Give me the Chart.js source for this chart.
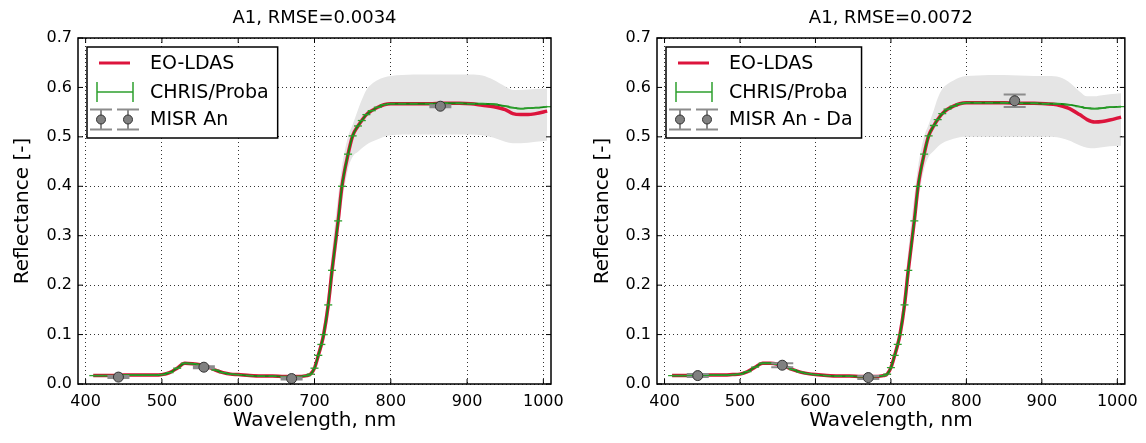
<!DOCTYPE html>
<html>
<head>
<meta charset="utf-8">
<script src="https://cdn.jsdelivr.net/npm/chart.js@4.4.1/dist/chart.umd.min.js"></script>
<style>
  html, body { margin: 0; padding: 0; background: #fff; }
  #wrap { position: relative; width: 1146px; height: 443px; }
  #wrap canvas { position: absolute; top: 0; }
</style>
</head>
<body>
<div id="wrap">
  <canvas id="chart-a" width="573" height="443" style="left:0"></canvas>
  <canvas id="chart-b" width="573" height="443" style="left:573px"></canvas>
</div>
<script>
// ---------------------------------------------------------------------------
// Data
// ---------------------------------------------------------------------------

const wavelengths = [410, 420, 430, 440, 450, 460, 470, 480, 490, 500,
  510, 520, 530, 540, 550, 560, 570, 580, 590, 600,
  615, 630, 645, 660, 675,
  690, 695, 700, 705, 709, 712, 718, 723, 731, 736, 744, 750, 757, 762, 768, 775, 783, 791, 800,
  815, 830, 850, 870, 890, 905, 920, 935, 950, 960, 970, 980, 990, 1005];

const xTicks = [400, 500, 600, 700, 800, 900, 1000];
const yTicks = [0.0, 0.1, 0.2, 0.3, 0.4, 0.5, 0.6, 0.7];

// left panel: MISR An
const titleA = 'A1, RMSE=0.0034';
const misrLabelA = 'MISR An';
const eoldasA = [.017, .017, .017, .017, .018, .018, .018, .018, .018, .019,
  .023, .032, .042, .041, .039, .035, .028, .023, .020, .019,
  .017, .016, .016, .015, .015,
  .017, .020, .032, .058, .080, .100, .160, .230, .330, .400, .465, .502, .522, .533, .545, .553, .560, .565, .567,
  .567, .567, .567, .568, .568, .567, .564, .561, .555, .547, .545, .545, .547, .552];
const chrisA = [.017, .017, .017, .017, .018, .018, .018, .018, .018, .019,
  .023, .032, .042, .041, .039, .035, .028, .023, .020, .019,
  .017, .016, .016, .015, .015,
  .017, .020, .032, .058, .080, .100, .160, .230, .330, .400, .465, .502, .522, .533, .545, .553, .560, .565, .567,
  .567, .567, .567, .568, .568, .567, .567, .566, .562, .559, .557, .558, .559, .561];
const upperA = [.020, .020, .020, .020, .021, .021, .021, .021, .021, .022,
  .026, .035, .045, .044, .042, .038, .031, .026, .023, .022,
  .020, .019, .019, .018, .018,
  .020, .023, .040, .070, .095, .120, .190, .270, .380, .440, .500, .525, .555, .575, .595, .607, .615, .620, .623,
  .625, .626, .626, .626, .626, .626, .624, .615, .602, .595, .595, .596, .597, .598];
const lowerA = [.014, .014, .014, .014, .015, .015, .015, .015, .015, .016,
  .020, .029, .039, .038, .036, .032, .025, .020, .017, .016,
  .014, .013, .013, .012, .012,
  .014, .017, .028, .050, .068, .085, .135, .195, .300, .365, .435, .460, .470, .477, .484, .490, .495, .500, .503,
  .505, .505, .505, .505, .505, .505, .503, .498, .490, .487, .487, .488, .490, .492];
const misrXA = [443, 555, 670, 865];
const misrYA = [0.014, 0.034, 0.011, 0.562];
const misrErrA = [0.002, 0.002, 0.002, 0.002];

// right panel: MISR An - Da
const titleB = 'A1, RMSE=0.0072';
const misrLabelB = 'MISR An - Da';
const eoldasB = [.017, .017, .017, .017, .018, .018, .018, .018, .019, .020,
  .025, .034, .042, .042, .040, .035, .029, .024, .021, .019,
  .017, .016, .016, .015, .015,
  .017, .020, .033, .058, .080, .100, .160, .230, .330, .400, .465, .502, .523, .535, .547, .556, .562, .567, .569,
  .569, .569, .569, .568, .568, .567, .565, .558, .545, .535, .530, .531, .534, .540];
const chrisB = [.017, .017, .017, .017, .018, .018, .018, .018, .019, .020,
  .025, .034, .042, .042, .040, .035, .029, .024, .021, .019,
  .017, .016, .016, .015, .015,
  .017, .020, .033, .058, .080, .100, .160, .230, .330, .400, .465, .502, .523, .535, .547, .556, .562, .567, .569,
  .569, .569, .569, .568, .568, .567, .567, .565, .561, .558, .557, .558, .560, .561];
const upperB = [.020, .020, .020, .020, .021, .021, .021, .021, .022, .023,
  .028, .037, .045, .045, .043, .038, .032, .027, .024, .022,
  .020, .019, .019, .018, .018,
  .020, .023, .040, .070, .095, .120, .190, .270, .380, .440, .500, .525, .555, .578, .597, .607, .614, .620, .623,
  .624, .625, .625, .624, .623, .623, .622, .612, .592, .582, .582, .584, .586, .588];
const lowerB = [.014, .014, .014, .014, .015, .015, .015, .015, .016, .017,
  .022, .031, .039, .039, .037, .032, .026, .021, .018, .016,
  .014, .013, .013, .012, .012,
  .014, .017, .028, .050, .068, .085, .135, .200, .310, .370, .435, .460, .472, .480, .487, .492, .496, .499, .500,
  .500, .500, .500, .500, .500, .500, .499, .493, .483, .478, .477, .479, .481, .482];
const misrXB = [444, 556, 670, 864];
const misrYB = [0.017, 0.038, 0.013, 0.573];
const misrErrB = [0.003, 0.004, 0.003, 0.0125];

// ---------------------------------------------------------------------------
// Styling
// ---------------------------------------------------------------------------

const FONT = '"DejaVu Sans", "Liberation Sans", sans-serif';
const RED = '#dc143c';
const GREEN = '#138a13';
const GREEN_BAR = '#2ea02e';
const GRAY = '#8c8c8c';
const BAND = '#e5e5e5';

function pts(xs, ys) { return xs.map((x, i) => ({ x, y: ys[i] })); }

// ---------------------------------------------------------------------------
// Plugins
// ---------------------------------------------------------------------------

// vertical error bars with wide caps for the MISR points, drawn under the markers
const misrBars = {
  id: 'misrBars',
  beforeDatasetDraw(chart, args) {
    const ds = chart.data.datasets[args.index];
    if (!ds.errors) return;
    const { ctx, scales: { x, y } } = chart;
    ctx.save();
    ctx.strokeStyle = GRAY;
    ctx.lineWidth = 2;
    ds.data.forEach((p, i) => {
      const px = x.getPixelForValue(p.x);
      const y0 = y.getPixelForValue(p.y - ds.errors[i]);
      const y1 = y.getPixelForValue(p.y + ds.errors[i]);
      ctx.beginPath();
      ctx.moveTo(px, y0); ctx.lineTo(px, y1);
      ctx.moveTo(px - 11, y0); ctx.lineTo(px + 11, y0);
      ctx.moveTo(px - 11, y1); ctx.lineTo(px + 11, y1);
      ctx.stroke();
    });
    ctx.restore();
  }
};

// matplotlib-like legend box in the upper left corner of the axes
const boxLegend = {
  id: 'boxLegend',
  afterDatasetsDraw(chart) {
    const { ctx, chartArea } = chart;
    const ds = chart.data.datasets;
    const labels = [ds[2].label, ds[1].label, ds[0].label];
    const x0 = chartArea.left + 9, y0 = chartArea.top + 9;
    ctx.save();
    ctx.font = '19px ' + FONT;
    const w = 63 + Math.max(...labels.map(t => ctx.measureText(t).width)) + 9;
    const h = 91;
    ctx.fillStyle = '#fff';
    ctx.fillRect(x0, y0, w, h);
    ctx.strokeStyle = '#000';
    ctx.lineWidth = 1.5;
    ctx.strokeRect(x0, y0, w, h);

    const rows = [y0 + 16, y0 + 45, y0 + 72.5];
    const cx = x0 + 28;

    // EO-LDAS
    ctx.strokeStyle = RED; ctx.lineWidth = 3;
    ctx.beginPath(); ctx.moveTo(cx - 16, rows[0]); ctx.lineTo(cx + 15, rows[0]); ctx.stroke();

    // CHRIS/Proba
    ctx.strokeStyle = GREEN_BAR; ctx.lineWidth = 1.5;
    ctx.beginPath();
    ctx.moveTo(cx - 18, rows[1]); ctx.lineTo(cx + 18, rows[1]);
    ctx.moveTo(cx - 18, rows[1] - 10); ctx.lineTo(cx - 18, rows[1] + 10);
    ctx.moveTo(cx + 18, rows[1] - 10); ctx.lineTo(cx + 18, rows[1] + 10);
    ctx.stroke();

    // MISR
    [cx - 14, cx + 13].forEach(mx => {
      ctx.strokeStyle = GRAY; ctx.lineWidth = 2;
      ctx.beginPath();
      ctx.moveTo(mx, rows[2] - 10); ctx.lineTo(mx, rows[2] + 10);
      ctx.moveTo(mx - 11, rows[2] - 10); ctx.lineTo(mx + 11, rows[2] - 10);
      ctx.moveTo(mx - 11, rows[2] + 10); ctx.lineTo(mx + 11, rows[2] + 10);
      ctx.stroke();
      ctx.beginPath();
      ctx.arc(mx, rows[2], 4.5, 0, Math.PI * 2);
      ctx.fillStyle = '#808080'; ctx.fill();
      ctx.strokeStyle = '#333'; ctx.lineWidth = 1; ctx.stroke();
    });

    ctx.fillStyle = '#000';
    ctx.textBaseline = 'middle';
    labels.forEach((t, i) => ctx.fillText(t, x0 + 63, rows[i] + 1));
    ctx.restore();
  }
};

// axes frame with inward ticks on all four sides
const frame = {
  id: 'frame',
  afterDraw(chart) {
    const { ctx, chartArea: a, scales: { x, y } } = chart;
    ctx.save();
    ctx.strokeStyle = '#000';
    ctx.lineWidth = 1;
    ctx.beginPath();
    xTicks.forEach(v => {
      const px = x.getPixelForValue(v);
      ctx.moveTo(px, a.bottom); ctx.lineTo(px, a.bottom - 5);
      ctx.moveTo(px, a.top); ctx.lineTo(px, a.top + 5);
    });
    yTicks.forEach(v => {
      const py = y.getPixelForValue(v);
      ctx.moveTo(a.left, py); ctx.lineTo(a.left + 5, py);
      ctx.moveTo(a.right, py); ctx.lineTo(a.right - 5, py);
    });
    ctx.stroke();
    ctx.lineWidth = 1.5;
    ctx.strokeRect(a.left, a.top, a.right - a.left, a.bottom - a.top);
    ctx.restore();
  }
};

// ---------------------------------------------------------------------------
// Chart builder
// ---------------------------------------------------------------------------

function buildChart(id, p) {
  const ctx = document.getElementById(id).getContext('2d');
  return new Chart(ctx, {
    type: 'line',
    data: {
      datasets: [
        { label: p.misrLabel, type: 'scatter', data: pts(p.misrX, p.misrY), errors: p.misrErr,
          showLine: false, pointRadius: 5, pointBackgroundColor: '#808080',
          pointBorderColor: '#333', pointBorderWidth: 1, order: 0 },
        { label: 'CHRIS/Proba', data: pts(wavelengths, p.chris), borderColor: GREEN, borderWidth: 1.8,
          pointStyle: 'line', pointRadius: 4, pointBorderColor: GREEN_BAR, pointBorderWidth: 1.3,
          cubicInterpolationMode: 'monotone', order: 1 },
        { label: 'EO-LDAS', data: pts(wavelengths, p.eoldas), borderColor: RED, borderWidth: 3.5,
          pointRadius: 0, cubicInterpolationMode: 'monotone', order: 2 },
        { label: 'upper', data: pts(wavelengths, p.upper), borderColor: 'transparent', borderWidth: 0,
          pointRadius: 0, fill: '+1', backgroundColor: BAND, cubicInterpolationMode: 'monotone', order: 3 },
        { label: 'lower', data: pts(wavelengths, p.lower), borderColor: 'transparent', borderWidth: 0,
          pointRadius: 0, fill: false, cubicInterpolationMode: 'monotone', order: 4 },
      ]
    },
    options: {
      responsive: false,
      animation: false,
      events: [],
      layout: { padding: { left: 0, right: p.padRight, top: 0, bottom: 0 } },
      plugins: {
        legend: { display: false },
        tooltip: { enabled: false },
        title: { display: true, fullSize: false, text: p.title, color: '#000',
                 font: { family: FONT, size: 18, weight: 'normal' }, padding: { top: 8, bottom: 8.4 } }
      },
      scales: {
        x: {
          type: 'linear', min: 390, max: 1010,
          afterBuildTicks: s => { s.ticks = xTicks.map(v => ({ value: v })); },
          afterFit: s => { s.height = 59; },
          grid: { color: '#333', lineWidth: 1, drawTicks: false },
          border: { display: false, dash: [1, 3] },
          ticks: { padding: 8, color: '#000', maxRotation: 0, font: { family: FONT, size: 16 },
                   callback: v => String(v) },
          title: { display: true, text: 'Wavelength, nm', color: '#000',
                   font: { family: FONT, size: 20 }, padding: { top: 0, bottom: 10 } }
        },
        y: {
          min: 0, max: 0.7,
          afterBuildTicks: s => { s.ticks = yTicks.map(v => ({ value: v })); },
          afterFit: s => { s.width = p.yWidth; },
          grid: { color: '#333', lineWidth: 1, drawTicks: false },
          border: { display: false, dash: [1, 3] },
          ticks: { padding: 6, color: '#000', font: { family: FONT, size: 16 },
                   callback: v => Number(v).toFixed(1) },
          title: { display: true, text: 'Reflectance [-]', color: '#000',
                   font: { family: FONT, size: 20 }, padding: { top: p.yTitlePad, bottom: 0 } }
        }
      }
    },
    plugins: [misrBars, boxLegend, frame]
  });
}

buildChart('chart-a', {
  title: titleA, misrLabel: misrLabelA, eoldas: eoldasA, chris: chrisA, upper: upperA, lower: lowerA,
  misrX: misrXA, misrY: misrYA, misrErr: misrErrA, yWidth: 78, padRight: 22, yTitlePad: 11
});
buildChart('chart-b', {
  title: titleB, misrLabel: misrLabelB, eoldas: eoldasB, chris: chrisB, upper: upperB, lower: lowerB,
  misrX: misrXB, misrY: misrYB, misrErr: misrErrB, yWidth: 84, padRight: 17, yTitlePad: 18
});
</script>
</body>
</html>
